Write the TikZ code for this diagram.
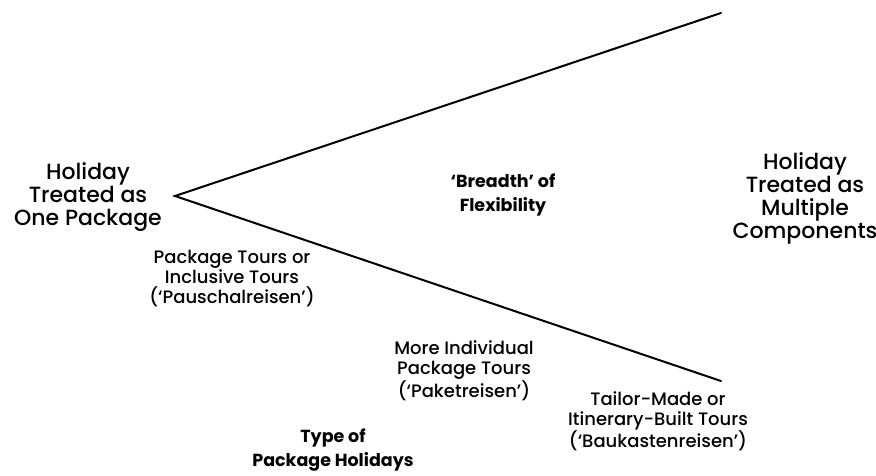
\documentclass[tikz,border=0pt]{standalone}
\usepackage{fontspec}
\setmainfont{Poppins}[UprightFont=* Medium,BoldFont=* Bold]
\begin{document}
\begin{tikzpicture}[x=1pt,y=-1pt,
  lbl/.style={align=center,inner sep=0pt,font=\fontsize{18}{20}\selectfont},
  big/.style={align=center,inner sep=0pt,font=\fontsize{22}{23}\selectfont},
  head/.style={align=center,inner sep=0pt,font=\bfseries\fontsize{17.5}{24}\selectfont},
  edge/.style={line width=2pt,line cap=round}]
\useasboundingbox (0,0) rectangle (876,475);
% wedge of flexibility
\coordinate (apex) at (175,196);
\coordinate (top) at (721,13);
\coordinate (bot) at (721,381);
\draw[edge] (top) -- (apex) -- (bot);
% end labels
\node[big] (one) at (88,197) {Holiday\\Treated as\\One Package};
\node[big] (multi) at (805,198) {Holiday\\Treated as\\Multiple\\Components};
\node[head] (breadth) at (503,195) {‘Breadth’ of\\Flexibility};
% kinds of package
\node[lbl] (pausch) at (232,279) {Package Tours or\\Inclusive Tours\\(‘Pauschalreisen’)};
\node[lbl] (paket) at (464,371) {More Individual\\Package Tours\\(‘Paketreisen’)};
\node[lbl] (bauk) at (658,421) {Tailor-Made or\\Itinerary-Built Tours\\(‘Baukastenreisen’)};
\node[head] (type) at (333,450) {Type of\\Package Holidays};
\end{tikzpicture}
\end{document}
